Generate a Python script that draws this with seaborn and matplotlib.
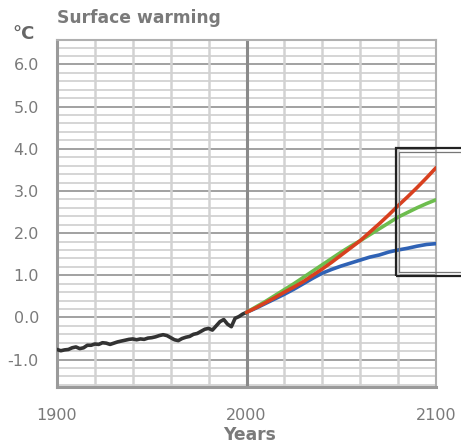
import matplotlib
matplotlib.use("Agg")
import matplotlib.pyplot as plt
import seaborn as sns
import pandas as pd
import numpy as np
from matplotlib.patches import Rectangle

# ---- data ----
hist_years = list(range(1900, 2001, 2))
hist_vals = [-0.76, -0.79, -0.77, -0.76, -0.72, -0.70, -0.74, -0.72, -0.66, -0.66,
             -0.63, -0.64, -0.60, -0.61, -0.64, -0.61, -0.58, -0.56, -0.54, -0.52,
             -0.51, -0.53, -0.51, -0.52, -0.49, -0.48, -0.46, -0.43, -0.41, -0.43,
             -0.48, -0.53, -0.55, -0.50, -0.47, -0.45, -0.40, -0.38, -0.33, -0.28,
             -0.26, -0.30, -0.20, -0.10, -0.05, -0.16, -0.22, -0.02, 0.02, 0.08, 0.12]
proj_years = list(range(2000, 2101, 5))
blue_vals = [0.12, 0.22, 0.33, 0.44, 0.55, 0.67, 0.80, 0.93, 1.05, 1.14, 1.22,
             1.29, 1.36, 1.43, 1.48, 1.55, 1.60, 1.64, 1.69, 1.73, 1.75]
green_vals = [0.12, 0.25, 0.38, 0.52, 0.66, 0.80, 0.95, 1.10, 1.25, 1.40, 1.55,
              1.69, 1.82, 1.96, 2.10, 2.24, 2.38, 2.49, 2.60, 2.70, 2.79]
red_vals = [0.12, 0.23, 0.35, 0.47, 0.60, 0.72, 0.85, 1.00, 1.15, 1.31, 1.48,
            1.65, 1.82, 2.02, 2.22, 2.43, 2.65, 2.86, 3.08, 3.31, 3.55]
y_ticks = [-1.0, 0.0, 1.0, 2.0, 3.0, 4.0, 5.0, 6.0]
x_ticks = [1900, 2000, 2100]

frames = [pd.DataFrame({"year": hist_years, "value": hist_vals, "series": "hist"})]
for name, vals in [("blue", blue_vals), ("green", green_vals), ("red", red_vals)]:
    frames.append(pd.DataFrame({"year": proj_years, "value": vals, "series": name}))
df = pd.concat(frames, ignore_index=True)

sns.set_style("white")
plt.rcParams['font.family'] = ['DejaVu Sans']

fig = plt.figure(figsize=(4.61, 4.45), dpi=100)
ax = fig.add_axes([57/461, 1-387/445, (436-57)/461, (387-40)/445])

palette = {"hist": "#333333", "blue": "#2f62b5", "green": "#6dbd4e", "red": "#d8401f"}
ax.set_xlim(1900, 2100)
ax.set_ylim(-1.65, 6.58)

# grid
for yv in np.arange(-1.6, 6.6, 0.2):
    if abs(yv - round(yv)) < 1e-6:
        ax.axhline(yv, color="#9a9a9a", lw=1.3, zorder=1)
    else:
        ax.axhline(yv, color="#d2d2d2", lw=1.3, zorder=1)
for xv in range(1920, 2100, 20):
    if xv == 2000:
        ax.axvline(xv, color="#8a8a8a", lw=2.2, zorder=1.5)
    else:
        ax.axvline(xv, color="#d2d2d2", lw=1.8, zorder=1)

sns.lineplot(data=df, x="year", y="value", hue="series", palette=palette,
             hue_order=["hist", "blue", "green", "red"], lw=2.6, legend=False,
             ax=ax, zorder=3)

ax.set_xticks(x_ticks)
ax.set_xticks(list(range(1920, 2100, 20)), minor=True)
ax.set_xticklabels([str(x) for x in x_ticks])
ax.set_yticks(y_ticks)
ax.set_yticklabels([f"{v:.1f}" for v in y_ticks])
ax.tick_params(axis="x", which="major", length=10, width=1.5, color="#9a9a9a",
               labelsize=11.5, labelcolor="#7a7a7a", pad=5, direction="out")
ax.tick_params(axis="x", which="minor", length=6, width=1.5, color="#c8c8c8", direction="out")
ax.tick_params(axis="y", length=10, width=1.5, color="#9a9a9a", labelsize=11.5,
               labelcolor="#7a7a7a", pad=3, direction="out")
ax.set_xlabel("")
ax.set_ylabel("")

for side in ["left", "bottom"]:
    ax.spines[side].set_color("#9a9a9a")
    ax.spines[side].set_linewidth(2.2)
for side in ["top", "right"]:
    ax.spines[side].set_color("#b0b0b0")
    ax.spines[side].set_linewidth(1.5)

# double-bordered box
ax.add_patch(Rectangle((2079, 0.98), 45, 3.04, fill=False, ec="#222222", lw=1.6,
                       clip_on=False, zorder=5))
ax.add_patch(Rectangle((2080.6, 1.07), 45, 2.86, fill=False, ec="#777777", lw=0.9,
                       clip_on=False, zorder=5))

fig.text(57/461, 1-18/445, "Surface warming", fontsize=12.3, fontweight="bold",
         color="#7a7a7a", va="center", ha="left")
fig.text(12/461, 1-34/445, "°C", fontsize=13, fontweight="bold",
         color="#666666", va="center", ha="left")
fig.text(250/461, 1-435/445, "Years", fontsize=12.3, fontweight="bold",
         color="#7a7a7a", va="center", ha="center")

fig.savefig("out.png", dpi=100)
